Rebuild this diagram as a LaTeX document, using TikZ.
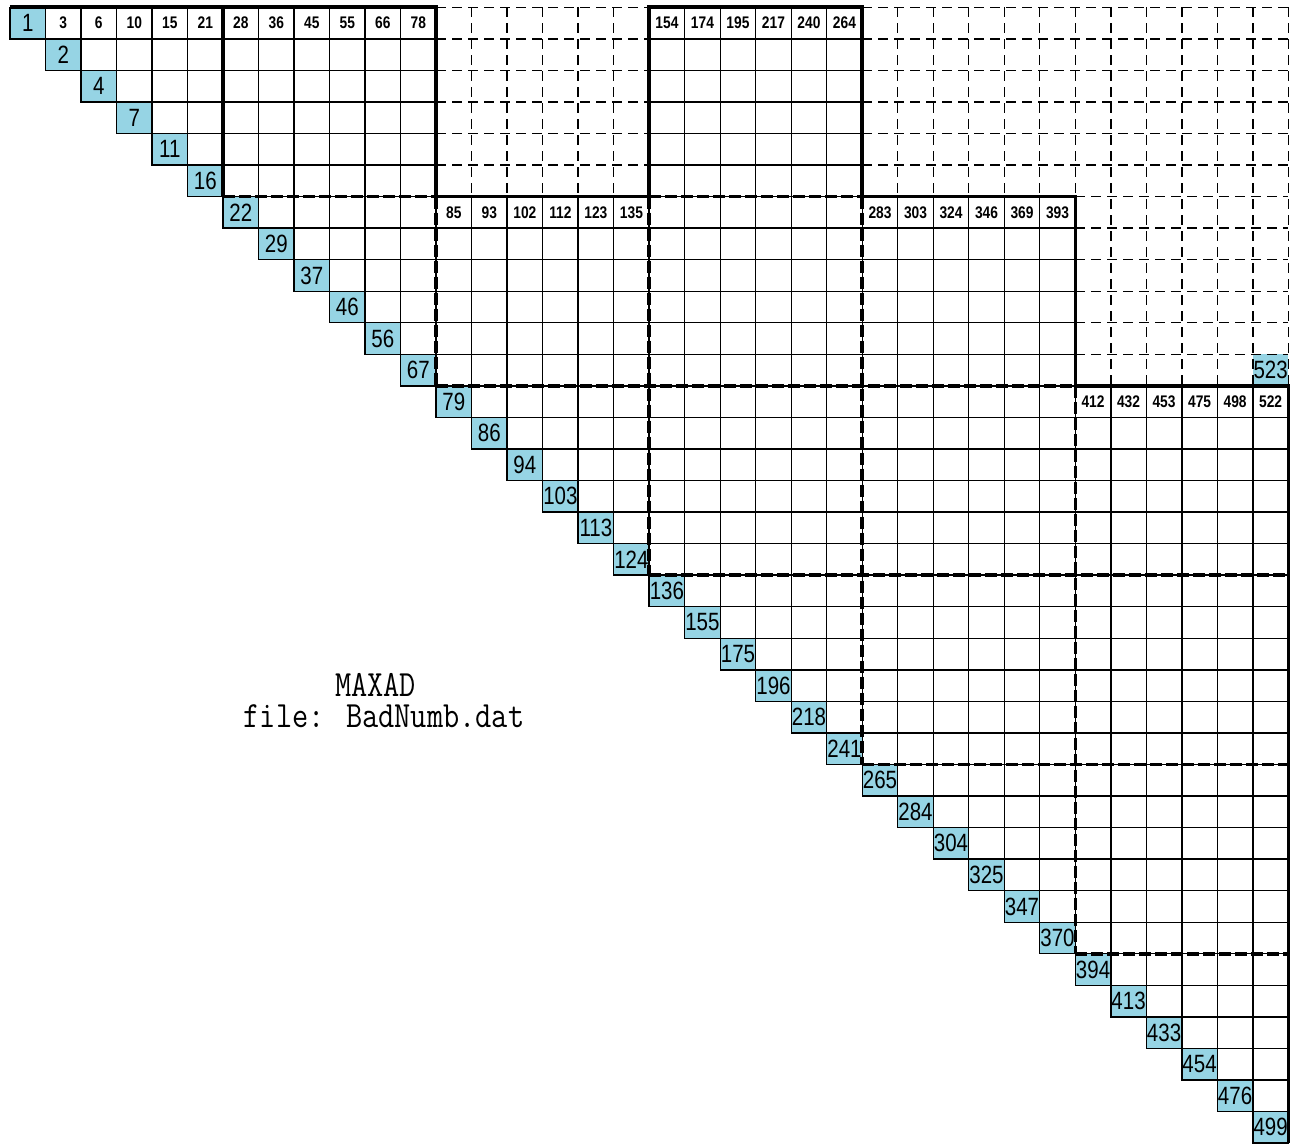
\documentclass[tikz,border=0pt]{standalone}
\usepackage{fontspec}
\newfontfamily\numfont[FakeStretch=0.82]{Liberation Sans}
\newfontfamily\labelfont[FakeStretch=0.85]{Latin Modern Mono}
\definecolor{diagblue}{RGB}{150,212,228}

\begin{document}
\begin{tikzpicture}[
    x=17.755pt, y=-15.775pt,
    gridline/.style={line width=0.7pt, black},
    zeroline/.style={line width=0.7pt, black, dash pattern=on 5pt off 3pt},
    blockline/.style={line width=1.8pt, black},
    blockdash/.style={line width=1.8pt, black, dash pattern=on 6pt off 2pt},
    diagcell/.style={fill=diagblue, draw=black, line width=0.7pt},
    diagnum/.style={font=\numfont\fontsize{12.5}{12.5}\selectfont, inner sep=0pt},
    topnum/.style={font=\numfont\bfseries\fontsize{8.4}{8.4}\selectfont, inner sep=0pt},
    labeltext/.style={font=\labelfont\fontsize{18.5}{18.5}\selectfont, inner sep=0pt, anchor=base},
]
\useasboundingbox (-5pt,3.65pt) rectangle (644pt,-568.35pt);

% === Extra entry above the last column ===
\fill[diagblue] (35,11) rectangle (36,12);
\node[diagnum] (x523) at (35.5,11.5) {523};

% === Zero region (dashed grid) ===
\foreach \r in {0,...,5} \draw[zeroline] (12,\r) -- (18,\r);
\foreach \c in {13,...,17} \draw[zeroline] (\c,0) -- (\c,6);
\foreach \r in {0,...,5} \draw[zeroline] (24,\r) -- (36,\r);
\foreach \r in {6,...,11} \draw[zeroline] (30,\r) -- (36,\r);
\foreach \c in {25,...,30} \draw[zeroline] (\c,0) -- (\c,6);
\foreach \c in {31,...,36} \draw[zeroline] (\c,0) -- (\c,12);

% === Skyline columns (solid grid) ===
\foreach \blk/\top in {0/0,1/0,2/6,3/0,4/6,5/12} {
    \foreach \c in {0,...,5} {
        \pgfmathtruncatemacro{\col}{6*\blk+\c}
        \foreach \r in {\top,...,\col}
            \draw[gridline] (\col,\r) rectangle ++(1,1);
    }
}

% === Diagonal entries ===
\foreach \v [count=\k from 0] in {1,2,4,7,11,16,22,29,37,46,56,67,79,86,94,103,113,124,
        136,155,175,196,218,241,265,284,304,325,347,370,394,413,433,454,476,499} {
    \filldraw[diagcell] (\k,\k) rectangle ++(1,1);
    \node[diagnum] (d\k) at (\k+0.5,\k+0.5) {\v};
}

% === Top entries of the columns ===
\foreach \c/\r/\v in {1/0/3,2/0/6,3/0/10,4/0/15,5/0/21,6/0/28,7/0/36,8/0/45,9/0/55,
        10/0/66,11/0/78,12/6/85,13/6/93,14/6/102,15/6/112,16/6/123,17/6/135,
        18/0/154,19/0/174,20/0/195,21/0/217,22/0/240,23/0/264,
        24/6/283,25/6/303,26/6/324,27/6/346,28/6/369,29/6/393,
        30/12/412,31/12/432,32/12/453,33/12/475,34/12/498,35/12/522}
    \node[topnum] (t\c) at (\c+0.5,\r+0.5) {\v};

% === Block outline ===
\draw[blockline] (0,0) -- (12,0) -- (12,6) -- (18,6) -- (18,0) -- (24,0) -- (24,6)
    -- (30,6) -- (30,12) -- (36,12) -- (36,36);
\draw[blockline] (6,0) -- (6,6);

% === Block partitions ===
\draw[blockdash] (6,6) -- (12,6) (18,6) -- (24,6) (12,12) -- (30,12)
    (18,18) -- (36,18) (24,24) -- (36,24) (30,30) -- (36,30);
\draw[blockdash] (12,6) -- (12,12) (18,6) -- (18,18) (24,6) -- (24,24) (30,12) -- (30,30);

% === Caption ===
\node[labeltext] (title) at (182.75pt,-344.7pt) {MAXAD};
\node[labeltext] (file) at (187pt,-360.35pt) {file: BadNumb.dat};

\end{tikzpicture}
\end{document}
